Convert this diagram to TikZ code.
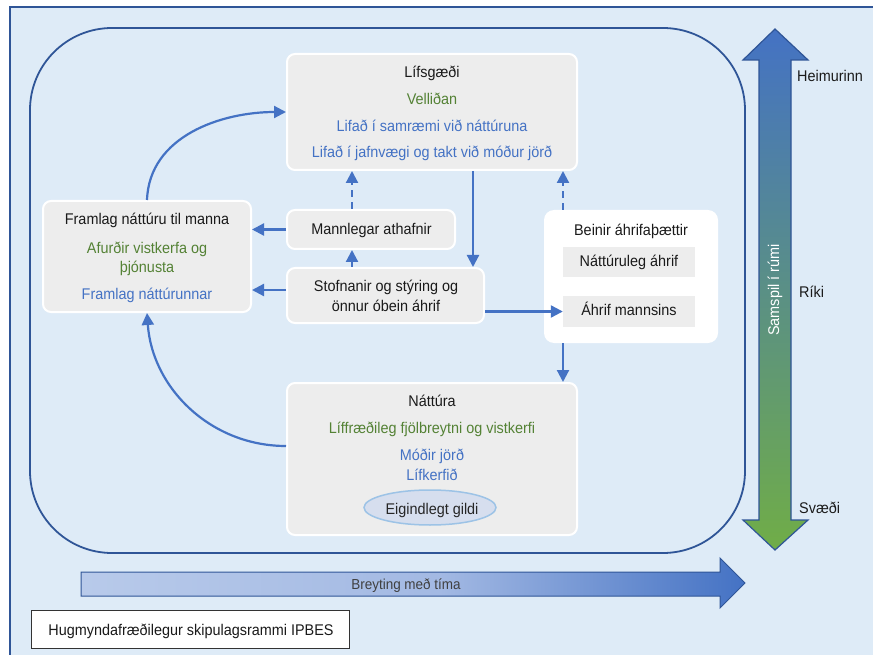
\documentclass[tikz,border=0pt]{standalone}
\usepackage{fontspec}
\setmainfont{Liberation Sans}[FakeStretch=0.93]
\usetikzlibrary{arrows.meta,shapes.geometric}
\definecolor{bgblue}{HTML}{DEEBF7}
\definecolor{framec}{HTML}{2F5597}
\definecolor{boxg}{HTML}{EDEDED}
\definecolor{txtgreen}{HTML}{548235}
\definecolor{txtblue}{HTML}{4472C4}
\definecolor{arrblue}{HTML}{4472C4}
\definecolor{txtdark}{HTML}{1A1A1A}
\definecolor{ellfill}{HTML}{D6DEEE}
\definecolor{elldraw}{HTML}{9DC3E6}
\definecolor{tcA}{HTML}{B8CAEA}
\definecolor{tcB}{HTML}{A3B9E3}
\definecolor{tcC}{HTML}{4472C4}
\definecolor{vtop}{HTML}{4472C4}
\definecolor{vmid}{HTML}{5B8C92}
\definecolor{vbot}{HTML}{70AD47}
\pgfdeclarehorizontalshading{timeshade}{100bp}{color(0bp)=(tcA); color(25bp)=(tcA); color(52bp)=(tcB); color(75bp)=(tcC); color(100bp)=(tcC)}
\tikzset{
  box/.style={draw=white, line width=2pt, fill=boxg, rounded corners=8pt, inner sep=0pt},
  wbox/.style={fill=white, rounded corners=10pt, inner sep=0pt},
  ibox/.style={fill=boxg, inner sep=0pt},
  txt/.style={font=\fontsize{15.5}{18}\selectfont, text=txtdark, inner sep=0pt, anchor=base},
  gtxt/.style={txt, text=txtgreen},
  btxt/.style={txt, text=txtblue},
  ltxt/.style={txt, anchor=base west},
  arr/.style={draw=arrblue, line width=2.2pt, -{Triangle[length=12pt,width=12pt]}},
  darr/.style={arr, dash pattern=on 7pt off 5pt},
}
\begin{document}
\begin{tikzpicture}[x=1pt,y=-1pt]
\useasboundingbox (0,0) rectangle (873,655);
% background frame
\fill[bgblue] (10,7) rectangle (873,655);
\draw[framec, line width=1.5pt] (10,655) -- (10,7) -- (873,7);
% inner rounded frame
\draw[framec, line width=1.8pt, rounded corners=82pt] (30,28) rectangle (745,553);

% boxes
\node[box, minimum width=290pt, minimum height=116pt] (lif) at (432,112) {};
\node[box, minimum width=208pt, minimum height=111pt] (fram) at (147,256.5) {};
\node[box, minimum width=168pt, minimum height=39pt] (mann) at (371,229.5) {};
\node[box, minimum width=197pt, minimum height=55pt] (stof) at (385.5,295.5) {};
\node[wbox, minimum width=174pt, minimum height=133pt] (bein) at (631,276.5) {};
\node[ibox, minimum width=132pt, minimum height=30pt] (natahr) at (629,262) {};
\node[ibox, minimum width=132pt, minimum height=31pt] (ahrif) at (629,311.5) {};
\node[box, minimum width=290pt, minimum height=152pt] (nat) at (432,459) {};
\node[ellipse, draw=elldraw, line width=1.5pt, fill=ellfill, minimum width=132pt, minimum height=35pt, inner sep=0pt] (eig) at (430,507.5) {};

% texts
\node[txt] (l1) at (432,78) {Lífsgæði};
\node[gtxt] (l2) at (432,105) {Velliðan};
\node[btxt] (l3) at (432,132) {Lifað í samræmi við náttúruna};
\node[btxt] (l4) at (432,158) {Lifað í jafnvægi og takt við móður jörð};

\node[txt] (f1) at (147,225) {Framlag náttúru til manna};
\node[gtxt] (f2) at (147,254) {Afurðir vistkerfa og};
\node[gtxt] (f3) at (147,272.5) {þjónusta};
\node[btxt] (f4) at (147,299) {Framlag náttúrunnar};

\node[txt] (m1) at (371.5,234.5) {Mannlegar athafnir};
\node[txt] (s1) at (386,291.5) {Stofnanir og stýring og};
\node[txt] (s2) at (386,311.5) {önnur óbein áhrif};

\node[txt] (b1) at (631,236) {Beinir áhrifaþættir};
\node[txt] (b2) at (629,266.5) {Náttúruleg áhrif};
\node[txt] (b3) at (629,315) {Áhrif mannsins};

\node[txt] (n1) at (432,406) {Náttúra};
\node[gtxt] (n2) at (432,433.5) {Líffræðileg fjölbreytni og vistkerfi};
\node[btxt] (n3) at (432,460.5) {Móðir jörð};
\node[btxt] (n4) at (432,480.5) {Lífkerfið};
\node[txt, text=black!85] (n5) at (432,514) {Eigindlegt gildi};

% helper coordinates
\coordinate (cA) at (352,0);
\coordinate (cB) at (473,0);
\coordinate (cC) at (563,0);
\coordinate (rS) at (0,290);
\coordinate (rN) at (0,446);

% connectors
\draw[arr] (fram.north) to[out=88,in=180] (lif.west);
\draw[arr] (nat.west |- rN) to[out=180,in=-86] (fram.south);
\draw[arr] (mann.west) -- (fram.east |- mann.west);
\draw[arr] (stof.west |- rS) -- (fram.east |- rS);
\draw[darr] (mann.north -| cA) -- (lif.south -| cA);
\draw[arr] (stof.north -| cA) -- (mann.south -| cA);
\draw[arr] (lif.south -| cB) -- (stof.north -| cB);
\draw[arr] (stof.east |- ahrif.west) -- (ahrif.west);
\draw[darr] (bein.north -| cC) -- (lif.south -| cC);
\draw[arr] (bein.south -| cC) -- (nat.north -| cC);

% vertical scale arrow
\shadedraw[draw=framec, line width=1.2pt, top color=vtop, middle color=vmid, bottom color=vbot]
  (775,29) -- (808,60) -- (791,60) -- (791,520) -- (808,520) -- (775,550) -- (743,520) -- (759,520) -- (759,60) -- (743,60) -- cycle;
\node[font=\fontsize{15.5}{18}\selectfont, text=white, rotate=90, inner sep=0pt] (sam) at (775,290) {Samspil í rúmi};
\node[ltxt] (h1) at (797,82) {Heimurinn};
\node[ltxt] (h2) at (799,297) {Ríki};
\node[ltxt] (h3) at (799,513) {Svæði};

% time arrow
\shadedraw[draw=framec, line width=1pt, shading=timeshade]
  (81,572) -- (720,572) -- (720,558) -- (745,583) -- (720,608) -- (720,596) -- (81,596) -- cycle;
\node[txt, text=black!75, font=\fontsize{14.5}{17}\selectfont] (tim) at (406,589) {Breyting með tíma};

% caption box
\node[draw=black!80, line width=0.8pt, fill=white, minimum width=318pt, minimum height=38pt, inner sep=0pt] (cap) at (190,629.5) {};
\node[txt] (capt) at (191,635) {Hugmyndafræðilegur skipulagsrammi IPBES};
\end{tikzpicture}
\end{document}
